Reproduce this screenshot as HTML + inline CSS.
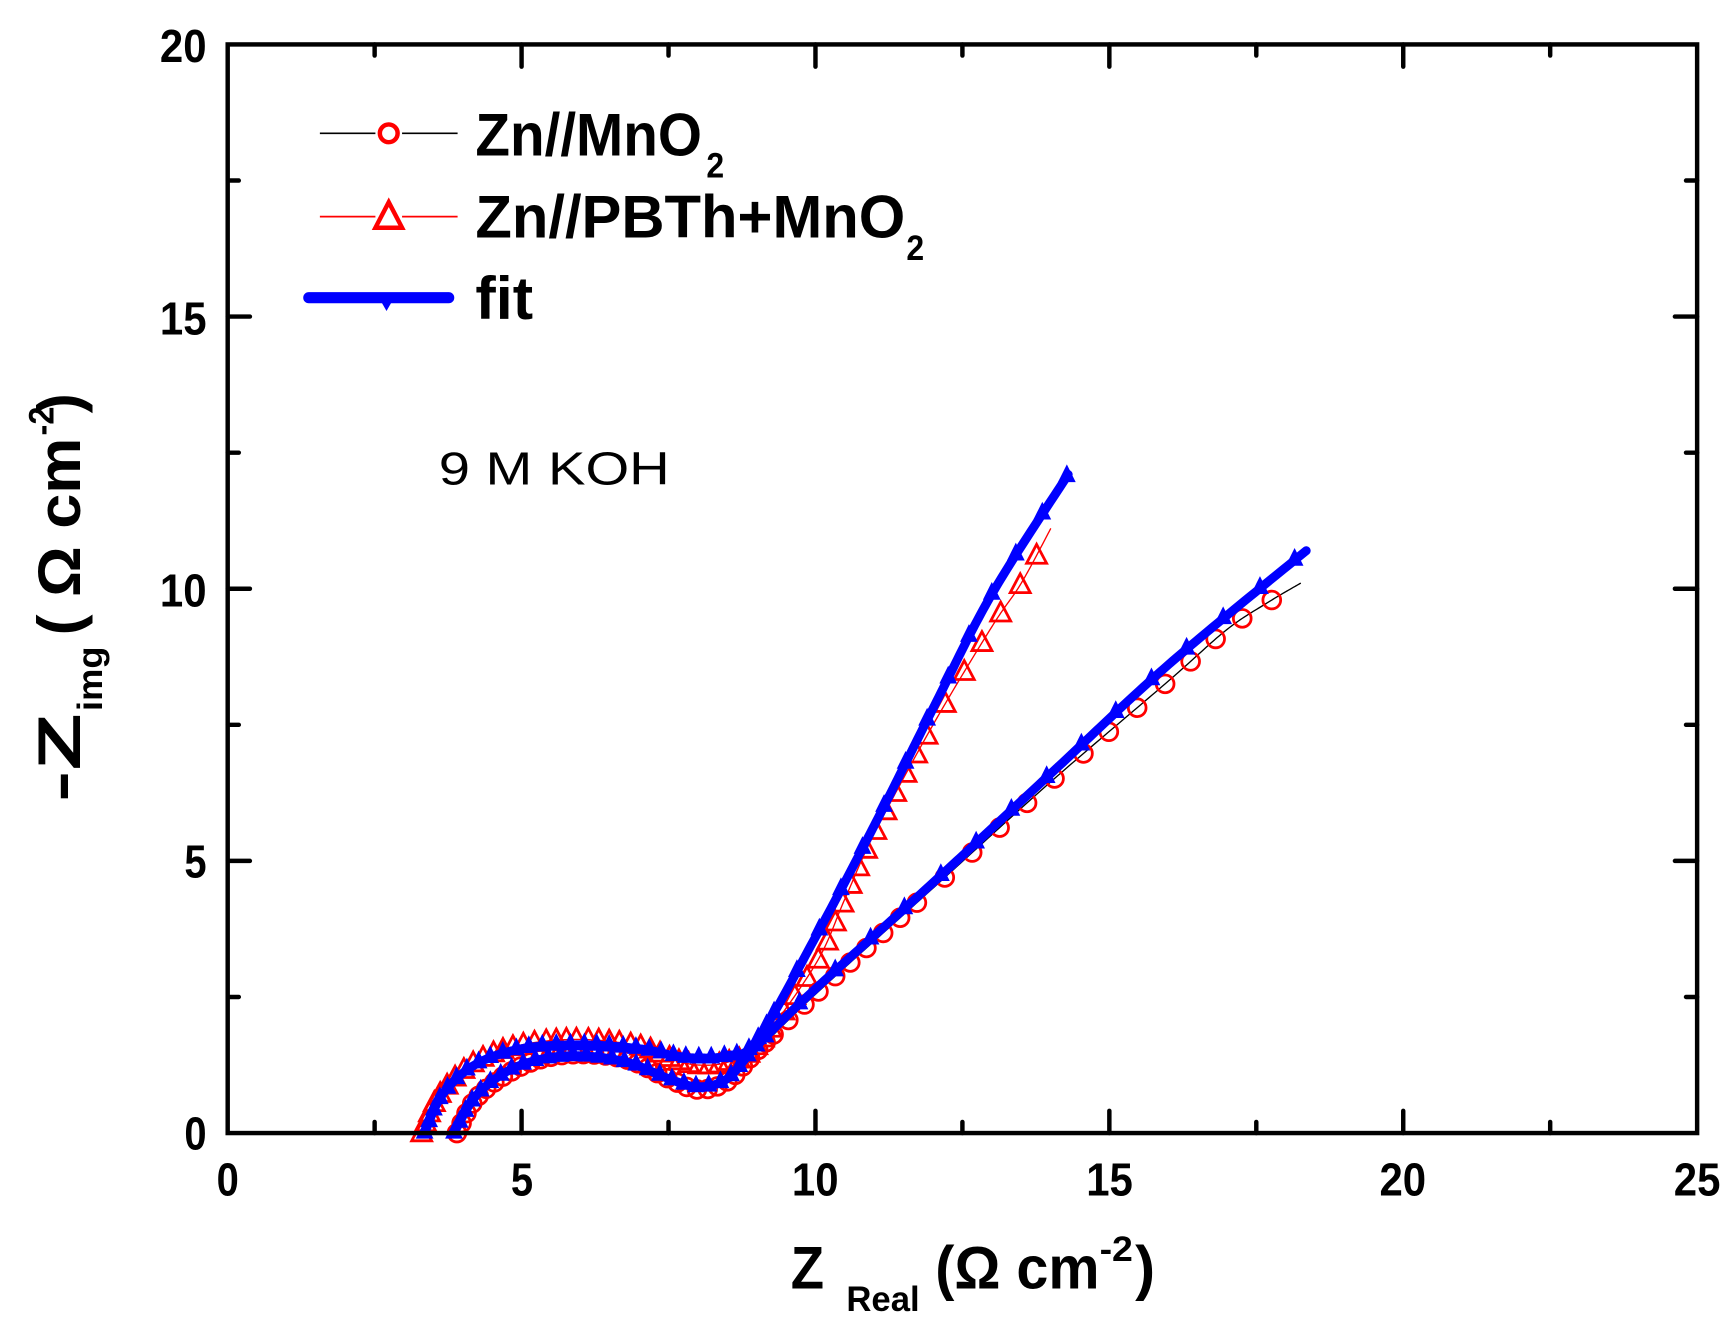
<!DOCTYPE html>
<html><head><meta charset="utf-8"><style>
html,body{margin:0;padding:0;background:#fff;}
svg{display:block;}
text{font-family:"Liberation Sans",Arial,sans-serif;}
</style></head><body>
<svg id="s" width="1736" height="1333" viewBox="0 0 1563 1200" preserveAspectRatio="none" xmlns="http://www.w3.org/2000/svg">
<rect width="1563" height="1200" fill="#fff"/>
<g id="data"></g>
<rect x="205" y="40" width="1323" height="980" fill="none" stroke="#000" stroke-width="4"/>
<g id="ticks" stroke="#000" stroke-width="4" stroke-linecap="round"></g>
<g font-weight="bold" font-size="42" text-anchor="end" lengthAdjust="spacingAndGlyphs">
<text x="186" y="1035" textLength="20" lengthAdjust="spacingAndGlyphs">0</text><text x="186" y="790" textLength="20" lengthAdjust="spacingAndGlyphs">5</text><text x="186" y="546" textLength="42" lengthAdjust="spacingAndGlyphs">10</text><text x="186" y="301" textLength="42" lengthAdjust="spacingAndGlyphs">15</text><text x="186" y="56" textLength="42" lengthAdjust="spacingAndGlyphs">20</text>
</g>
<g font-weight="bold" font-size="42">
<text x="195" y="1076" textLength="20" lengthAdjust="spacingAndGlyphs">0</text><text x="460" y="1076" textLength="20" lengthAdjust="spacingAndGlyphs">5</text><text x="713" y="1076" textLength="42" lengthAdjust="spacingAndGlyphs">10</text><text x="978" y="1076" textLength="42" lengthAdjust="spacingAndGlyphs">15</text><text x="1242" y="1076" textLength="42" lengthAdjust="spacingAndGlyphs">20</text><text x="1507" y="1076" textLength="42" lengthAdjust="spacingAndGlyphs">25</text>
</g>
<text x="712" y="1160" font-weight="bold" font-size="54" textLength="30" lengthAdjust="spacingAndGlyphs">Z</text>
<text x="762" y="1180" font-weight="bold" font-size="32" textLength="66" lengthAdjust="spacingAndGlyphs">Real</text>
<text x="842" y="1160" font-weight="bold" font-size="54" textLength="148" lengthAdjust="spacingAndGlyphs">(Ω cm</text>
<text x="990" y="1135" font-weight="bold" font-size="32" textLength="30" lengthAdjust="spacingAndGlyphs">-2</text>
<text x="1022" y="1160" font-weight="bold" font-size="54" textLength="18" lengthAdjust="spacingAndGlyphs">)</text>
<g transform="translate(72,722) rotate(-90)">
<text x="0" y="0" font-weight="bold" font-size="54" textLength="80" lengthAdjust="spacingAndGlyphs">-Z</text>
<text x="82" y="20" font-weight="bold" font-size="32" textLength="58" lengthAdjust="spacingAndGlyphs">img</text>
<text x="150" y="0" font-weight="bold" font-size="54" textLength="178" lengthAdjust="spacingAndGlyphs">( Ω cm</text>
<text x="330" y="-24" font-weight="bold" font-size="32" textLength="26" lengthAdjust="spacingAndGlyphs">-2</text>
<text x="350" y="0" font-weight="bold" font-size="54" textLength="18" lengthAdjust="spacingAndGlyphs">)</text>
</g>
<text x="395" y="436" font-size="42" textLength="208" lengthAdjust="spacingAndGlyphs">9 M KOH</text>
<!-- legend -->
<line x1="288" y1="120" x2="338" y2="120" stroke="#000" stroke-width="1.5"/>
<line x1="362" y1="120" x2="412" y2="120" stroke="#000" stroke-width="1.5"/>
<circle cx="350" cy="120" r="8" fill="none" stroke="#f00" stroke-width="4"/>
<text x="428" y="140" font-weight="bold" font-size="54" textLength="204" lengthAdjust="spacingAndGlyphs">Zn//MnO</text>
<text x="636" y="160" font-weight="bold" font-size="32" textLength="16" lengthAdjust="spacingAndGlyphs">2</text>
<line x1="288" y1="195" x2="338" y2="195" stroke="#f00" stroke-width="1.5"/>
<line x1="362" y1="195" x2="412" y2="195" stroke="#f00" stroke-width="1.5"/>
<polygon points="350,182 362,205 338,205" fill="none" stroke="#f00" stroke-width="4"/>
<text x="428" y="214" font-weight="bold" font-size="54" textLength="387" lengthAdjust="spacingAndGlyphs">Zn//PBTh+MnO</text>
<text x="816" y="234" font-weight="bold" font-size="32" textLength="16" lengthAdjust="spacingAndGlyphs">2</text>
<line x1="278" y1="268" x2="404" y2="268" stroke="#00f" stroke-width="10" stroke-linecap="round"/>
<polygon points="340,266 356,266 348,280" fill="#00f"/>
<text x="428" y="287" font-weight="bold" font-size="54" textLength="52" lengthAdjust="spacingAndGlyphs">fit</text>
</svg>
<script>
const X=v=>205+v*52.92, Y=v=>1020-v*49;
const NS="http://www.w3.org/2000/svg";
const tk=document.getElementById('ticks');
function ln(g,x1,y1,x2,y2,a){const l=document.createElementNS(NS,'line');l.setAttribute('x1',x1);l.setAttribute('y1',y1);l.setAttribute('x2',x2);l.setAttribute('y2',y2);for(const k in a||{})l.setAttribute(k,a[k]);g.appendChild(l);}
for(let i=1;i<10;i++){const x=X(i*2.5),L=i%2==0?20:10;ln(tk,x,1020,x,1020-L);ln(tk,x,40,x,40+L);}
for(let i=1;i<8;i++){const y=Y(i*2.5),L=i%2==0?20:10;ln(tk,205,y,205+L,y);ln(tk,1528,y,1528-L,y);}
function cr(pts,n){const out=[];for(let i=0;i<pts.length-1;i++){const p0=pts[Math.max(i-1,0)],p1=pts[i],p2=pts[i+1],p3=pts[Math.min(i+2,pts.length-1)];for(let t=0;t<1;t+=1/n){const t2=t*t,t3=t2*t;const f=(a,b,c,d)=>0.5*(2*b+(-a+c)*t+(2*a-5*b+4*c-d)*t2+(-a+3*b-3*c+d)*t3);out.push([X(f(p0[0],p1[0],p2[0],p3[0])),Y(f(p0[1],p1[1],p2[1],p3[1]))]);}}const l=pts[pts.length-1];out.push([X(l[0]),Y(l[1])]);return out;}
function sample(poly,fn){const r=[poly[0]];let acc=0;for(let i=1;i<poly.length;i++){const d=Math.hypot(poly[i][0]-poly[i-1][0],poly[i][1]-poly[i-1][1]);acc+=d;const sp=fn(poly[i]);if(acc>=sp){r.push(poly[i]);acc=0;}}return r;}
const g=document.getElementById('data');
const spc=p=>p[0]<X(9.3)?9:(p[0]<X(12)?17:30);
const A=[[3.9,0],[4.2,0.6],[4.7,1.05],[5.3,1.35],[6,1.45],[6.8,1.35],[7.5,1.0],[8,0.8],[8.5,0.95],[9,1.5],[10,2.55],[12,4.5],[14,6.45],[16,8.3],[17,9.25],[17.7,9.75],[18.25,10.1]];
const AF=[[3.85,0],[4.2,0.65],[4.7,1.1],[5.3,1.35],[6,1.42],[6.8,1.3],[7.5,1.0],[8,0.85],[8.5,1.0],[9,1.6],[10,2.65],[12,4.6],[14,6.6],[16,8.6],[18.35,10.7]];
const B=[[3.3,0],[3.6,0.7],[4.2,1.3],[5,1.62],[6,1.72],[7,1.6],[7.6,1.35],[8,1.25],[8.5,1.3],[9,1.6],[10,3.1],[10.5,4.3],[11,5.5],[12,7.5],[13,9.3],[13.5,10.1],[14,11.1]];
const BF=[[3.35,0],[3.65,0.7],[4.2,1.25],[5,1.55],[6,1.62],[7,1.55],[7.6,1.42],[8,1.38],[8.5,1.42],[9,1.7],[10,3.6],[11,5.65],[12,7.8],[13,9.9],[14.3,12.1]];
function path(poly,c,w){const p=document.createElementNS(NS,'polyline');p.setAttribute('points',poly.map(q=>q.join(',')).join(' '));p.setAttribute('fill','none');p.setAttribute('stroke',c);p.setAttribute('stroke-width',w);p.setAttribute('stroke-linejoin','round');p.setAttribute('stroke-linecap','round');g.appendChild(p);}
const pa=cr(A,30),pb=cr(B,30),pf=cr(AF,30),pg=cr(BF,30);
path(pa,'#000',1.2);path(pb,'#f00',1.2);
for(const q of sample(pa,spc)){const c=document.createElementNS(NS,'circle');c.setAttribute('cx',q[0]);c.setAttribute('cy',q[1]);c.setAttribute('r',8);c.setAttribute('fill','none');c.setAttribute('stroke','#f00');c.setAttribute('stroke-width',2.5);g.appendChild(c);}
for(const q of sample(pb,spc)){const c=document.createElementNS(NS,'polygon');const x=q[0],y=q[1];c.setAttribute('points',`${x},${y-10} ${x+9},${y+7} ${x-9},${y+7}`);c.setAttribute('fill','none');c.setAttribute('stroke','#f00');c.setAttribute('stroke-width',2.5);g.appendChild(c);}
path(pf,'#00f',8);path(pg,'#00f',8);
for(const pp of [pf,pg])for(const q of sample(pp,p=>p[0]<X(9.3)?11:40)){const c=document.createElementNS(NS,'polygon');const x=q[0],y=q[1];c.setAttribute('points',`${x},${y-11} ${x+8},${y+5} ${x-8},${y+5}`);c.setAttribute('fill','#00f');g.appendChild(c);}
</script>
</body></html>
